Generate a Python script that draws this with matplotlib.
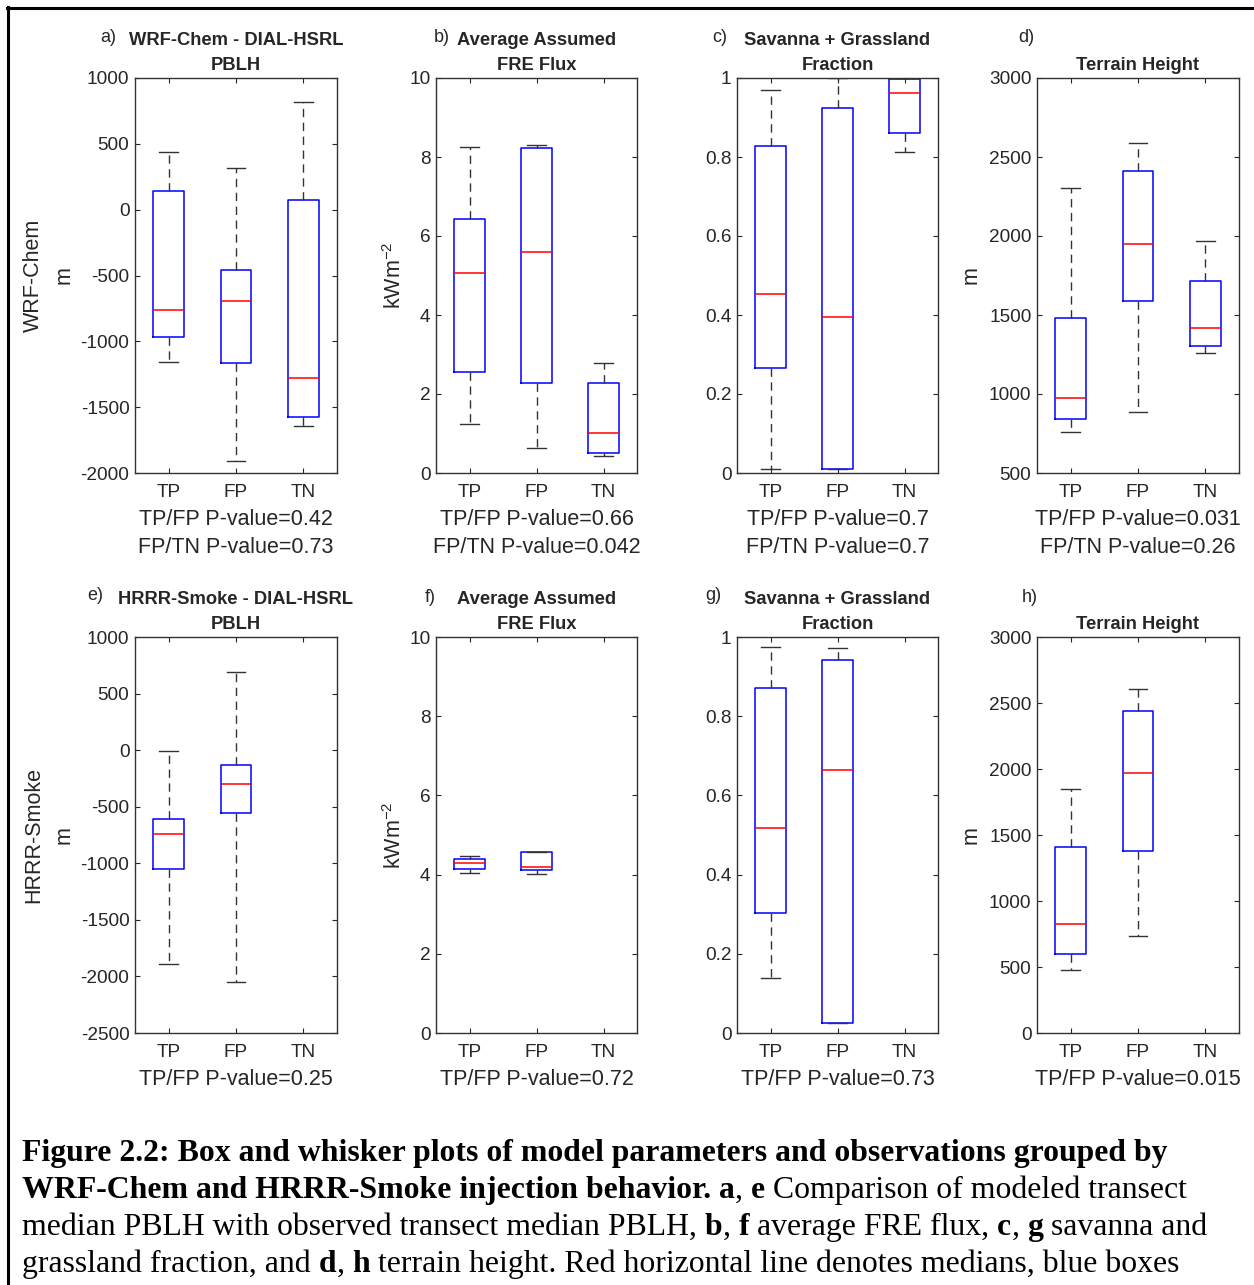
import matplotlib
matplotlib.use("Agg")
import matplotlib.pyplot as plt
from matplotlib.lines import Line2D

plt.rcParams['font.family'] = ['Liberation Sans', 'DejaVu Sans']
plt.rcParams['mathtext.default'] = 'regular'
plt.rcParams['axes.unicode_minus'] = False

W, H = 1254, 1285
categories = ["TP", "FP", "TN"]

# ---------------- data (box statistics) ----------------
# a) WRF-Chem - DIAL-HSRL PBLH (m)
a_whislo = [-1155, -1906, -1643]
a_q1 = [-965, -1162, -1577]
a_med = [-764, -694, -1281]
a_q3 = [142, -458, 73]
a_whishi = [438, 316, 820]
# b) Average Assumed FRE Flux (kW m-2)
b_whislo = [1.24, 0.63, 0.43]
b_q1 = [2.56, 2.28, 0.51]
b_med = [5.07, 5.60, 1.01]
b_q3 = [6.43, 8.22, 2.28]
b_whishi = [8.25, 8.30, 2.78]
# c) Savanna + Grassland Fraction
c_whislo = [0.009, 0.011, 0.813]
c_q1 = [0.267, 0.011, 0.860]
c_med = [0.452, 0.396, 0.963]
c_q3 = [0.828, 0.923, 0.998]
c_whishi = [0.970, 1.0, 1.0]
# d) Terrain Height (m)
d_whislo = [761, 888, 1261]
d_q1 = [840, 1589, 1306]
d_med = [977, 1947, 1416]
d_q3 = [1483, 2411, 1715]
d_whishi = [2306, 2591, 1970]
# e) HRRR-Smoke - DIAL-HSRL PBLH (m)  (TP, FP only)
e_whislo = [-1893, -2046]
e_q1 = [-1048, -553]
e_med = [-738, -302]
e_q3 = [-609, -131]
e_whishi = [-8, 693]
# f) Average Assumed FRE Flux
f_whislo = [4.03, 4.01]
f_q1 = [4.14, 4.11]
f_med = [4.29, 4.19]
f_q3 = [4.40, 4.56]
f_whishi = [4.48, 4.56]
# g) Savanna + Grassland Fraction
g_whislo = [0.140, 0.024]
g_q1 = [0.303, 0.024]
g_med = [0.518, 0.663]
g_q3 = [0.870, 0.941]
g_whishi = [0.976, 0.971]
# h) Terrain Height
h_whislo = [475, 732]
h_q1 = [596, 1379]
h_med = [828, 1972]
h_q3 = [1409, 2439]
h_whishi = [1851, 2608]

pbl_ticks_top = [-2000, -1500, -1000, -500, 0, 500, 1000]
pbl_ticks_bot = [-2500, -2000, -1500, -1000, -500, 0, 500, 1000]
fre_ticks = [0, 2, 4, 6, 8, 10]
frac_ticks = [0, 0.2, 0.4, 0.6, 0.8, 1]
frac_labels = ["0", "0.2", "0.4", "0.6", "0.8", "1"]
ter_ticks_top = [500, 1000, 1500, 2000, 2500, 3000]
ter_ticks_bot = [0, 500, 1000, 1500, 2000, 2500, 3000]

titles = ["WRF-Chem - DIAL-HSRL\nPBLH", "Average Assumed\nFRE Flux",
          "Savanna + Grassland\nFraction", "Terrain Height",
          "HRRR-Smoke - DIAL-HSRL\nPBLH", "Average Assumed\nFRE Flux",
          "Savanna + Grassland\nFraction", "Terrain Height"]
letters = ["a)", "b)", "c)", "d)", "e)", "f)", "g)", "h)"]
ylabels = ["WRF-Chem\nm", "kWm$^{-2}$", "", "m",
           "HRRR-Smoke\nm", "kWm$^{-2}$", "", "m"]
pvalues = ["TP/FP P-value=0.42\nFP/TN P-value=0.73",
           "TP/FP P-value=0.66\nFP/TN P-value=0.042",
           "TP/FP P-value=0.7\nFP/TN P-value=0.7",
           "TP/FP P-value=0.031\nFP/TN P-value=0.26",
           "TP/FP P-value=0.25", "TP/FP P-value=0.72",
           "TP/FP P-value=0.73", "TP/FP P-value=0.015"]

panels = [
    (a_whislo, a_q1, a_med, a_q3, a_whishi, (-2000, 1000), pbl_ticks_top, None),
    (b_whislo, b_q1, b_med, b_q3, b_whishi, (0, 10), fre_ticks, None),
    (c_whislo, c_q1, c_med, c_q3, c_whishi, (0, 1), frac_ticks, frac_labels),
    (d_whislo, d_q1, d_med, d_q3, d_whishi, (500, 3000), ter_ticks_top, None),
    (e_whislo, e_q1, e_med, e_q3, e_whishi, (-2500, 1000), pbl_ticks_bot, None),
    (f_whislo, f_q1, f_med, f_q3, f_whishi, (0, 10), fre_ticks, None),
    (g_whislo, g_q1, g_med, g_q3, g_whishi, (0, 1), frac_ticks, frac_labels),
    (h_whislo, h_q1, h_med, h_q3, h_whishi, (0, 3000), ter_ticks_bot, None),
]

# ---------------- layout (pixels) ----------------
col_x = [(135, 337), (436, 637), (737, 938), (1037, 1239)]
row_y = [(78, 473), (637, 1033)]
letter_pos = [(100, 38), (434, 38), (712, 38), (1018, 38),
              (87, 595), (425, 597), (705, 595), (1022, 597)]
ylabel_x = [75, 406, None, 982, 75, 406, None, 982]

fig = plt.figure(figsize=(W / 100, H / 100), dpi=100)
fig.patch.set_facecolor('white')

TXT = '#262626'
for i, (lo, q1, md, q3, hi, ylim, yt, ytl) in enumerate(panels):
    r, c = divmod(i, 4)
    x0, x1 = col_x[c]
    yt0, yb0 = row_y[r]
    ax = fig.add_axes([x0 / W, 1 - yb0 / H, (x1 - x0) / W, (yb0 - yt0) / H])
    stats = [dict(whislo=lo[k], q1=q1[k], med=md[k], q3=q3[k], whishi=hi[k],
                  fliers=[], label=categories[k]) for k in range(len(lo))]
    ax.bxp(stats, positions=list(range(1, len(lo) + 1)), widths=0.46,
           capwidths=0.28, showfliers=False, manage_ticks=False,
           boxprops=dict(color='#0000ff', lw=1.1),
           medianprops=dict(color='#ff0000', lw=1.1),
           whiskerprops=dict(color='#333333', lw=1.0, linestyle=(0, (6, 4))),
           capprops=dict(color='#333333', lw=1.0))
    ax.set_xlim(0.5, 3.5)
    ax.set_xticks([1, 2, 3])
    ax.set_xticklabels(categories)
    ax.set_ylim(*ylim)
    ax.set_yticks(yt)
    if ytl is not None:
        ax.set_yticklabels(ytl)
    ax.tick_params(direction='in', length=3.5, width=0.8, top=True, right=True,
                   labelsize=13.7, colors=TXT)
    ax.tick_params(axis='x', pad=8)
    ax.tick_params(axis='y', pad=4)
    for s in ax.spines.values():
        s.set_color('#333333')
        s.set_linewidth(1.0)
    ax.set_title(titles[i], fontsize=13.2, fontweight='bold', color=TXT,
                 pad=6, linespacing=1.62)
    ax.set_xlabel(pvalues[i], fontsize=15.5, color=TXT, labelpad=5.5,
                  linespacing=1.45)
    if ylabels[i]:
        ax.set_ylabel(ylabels[i], fontsize=15.5, color=TXT, linespacing=1.6)
        ax.yaxis.set_label_coords((ylabel_x[i] - x0) / (x1 - x0), 0.5)
    lx, ly = letter_pos[i]
    fig.text(lx / W, 1 - ly / H, letters[i], fontsize=13, color=TXT,
             ha='left', va='center')

# ---------------- frame ----------------
fig.add_artist(Line2D([7.5 / W, 7.5 / W], [0, 1 - 7 / H], transform=fig.transFigure,
                      color='black', lw=2.2))
fig.add_artist(Line2D([6.5 / W, 1], [1 - 8 / H, 1 - 8 / H], transform=fig.transFigure,
                      color='black', lw=2.2))

# ---------------- caption ----------------
caption_lines = [
    [("Figure 2.2: Box and whisker plots of model parameters and observations grouped by", True)],
    [("WRF-Chem and HRRR-Smoke injection behavior.", True), (" ", False), ("a", True),
     (",", False), (" ", False), ("e", True), (" ", False),
     ("Comparison of modeled transect", False)],
    [("median PBLH with observed transect median PBLH,", False), (" ", False), ("b", True),
     (",", False), (" ", False), ("f", True), (" ", False), ("average FRE flux,", False),
     (" ", False), ("c", True), (",", False), (" ", False), ("g", True), (" ", False),
     ("savanna and", False)],
    [("grassland fraction, and", False), (" ", False), ("d", True), (",", False),
     (" ", False), ("h", True), (" ", False),
     ("terrain height. Red horizontal line denotes medians, blue boxes", False)],
]
caption_base = [1161, 1198, 1235, 1272]
cap_fs = 22.9
fig.canvas.draw()
renderer = fig.canvas.get_renderer()


def text_w(s, bold):
    t = fig.text(0, 0, s, fontsize=cap_fs, family='Liberation Serif',
                 fontweight='bold' if bold else 'normal')
    w = t.get_window_extent(renderer).width
    t.remove()
    return w


space_w = text_w("a a", False) - text_w("aa", False)
for line, yb in zip(caption_lines, caption_base):
    x = 22.0
    for s, bold in line:
        if s == " ":
            x += space_w
            continue
        t = fig.text(x / W, 1 - yb / H, s, fontsize=cap_fs, family='Liberation Serif',
                     fontweight='bold' if bold else 'normal', color='black',
                     ha='left', va='baseline')
        x += t.get_window_extent(renderer).width

fig.savefig("out.png", dpi=100, facecolor='white')
